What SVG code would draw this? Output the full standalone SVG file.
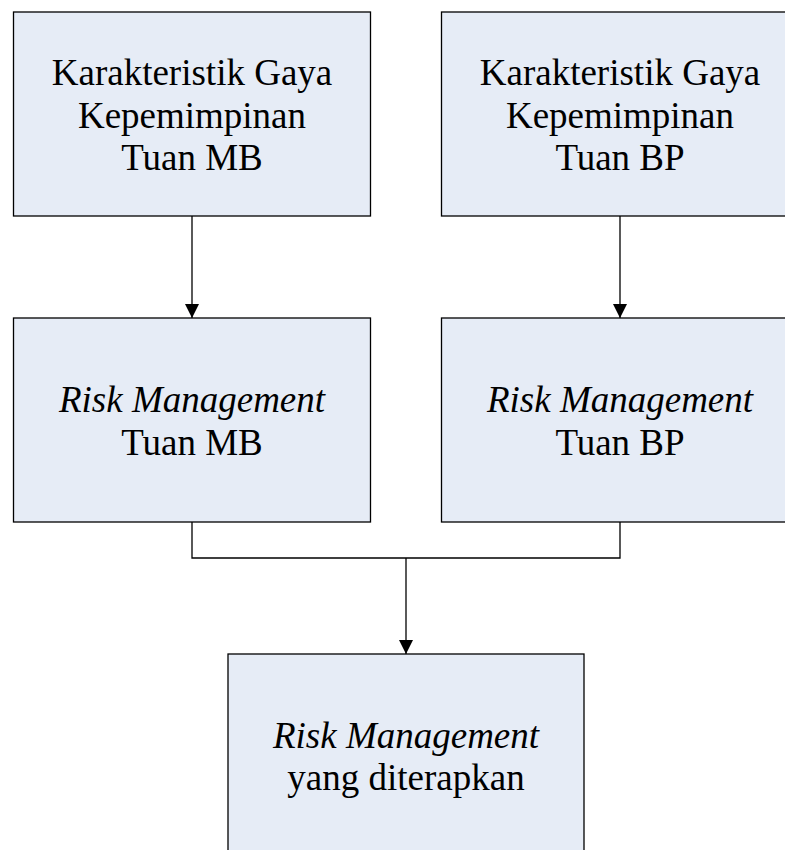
<svg xmlns="http://www.w3.org/2000/svg" width="785" height="850" viewBox="0 0 785 850">
<style>
.box{fill:#E6ECF6;stroke:#000;stroke-width:1.3}
.t{font-family:"Liberation Serif","Times New Roman",serif;font-size:37px;fill:#000;text-anchor:middle}
.i{font-style:italic}
.c{fill:none;stroke:#000;stroke-width:1.3}
</style>
<defs>
<marker id="ah" viewBox="0 0 14 14" refX="14" refY="7" markerWidth="14" markerHeight="14" markerUnits="userSpaceOnUse" orient="auto">
<path d="M0,0 L14,7 L0,14 Z" fill="#000"/>
</marker>
</defs>
<rect width="785" height="850" fill="#fff"/>
<g id="connectors">
<line class="c" x1="192" y1="216" x2="192" y2="318" marker-end="url(#ah)"/>
<line class="c" x1="620" y1="216" x2="620" y2="318" marker-end="url(#ah)"/>
<polyline class="c" points="192,522 192,558 620,558 620,522"/>
<line class="c" x1="406" y1="558" x2="406" y2="654" marker-end="url(#ah)"/>
</g>
<g id="node-karakteristik-mb">
<rect class="box" x="13.5" y="12" width="357" height="204"/>
<text class="t" x="192" y="85">Karakteristik Gaya</text>
<text class="t" x="192" y="127.5">Kepemimpinan</text>
<text class="t" x="192" y="170">Tuan MB</text>
</g>
<g id="node-karakteristik-bp">
<rect class="box" x="441.5" y="12" width="357" height="204"/>
<text class="t" x="620" y="85">Karakteristik Gaya</text>
<text class="t" x="620" y="127.5">Kepemimpinan</text>
<text class="t" x="620" y="170">Tuan BP</text>
</g>
<g id="node-risk-mb">
<rect class="box" x="13.5" y="318" width="357" height="204"/>
<text class="t i" x="192" y="412">Risk Management</text>
<text class="t" x="192" y="455">Tuan MB</text>
</g>
<g id="node-risk-bp">
<rect class="box" x="441.5" y="318" width="357" height="204"/>
<text class="t i" x="620" y="412">Risk Management</text>
<text class="t" x="620" y="455">Tuan BP</text>
</g>
<g id="node-risk-applied">
<rect class="box" x="228" y="654" width="356" height="210"/>
<text class="t i" x="406" y="748">Risk Management</text>
<text class="t" x="406" y="790">yang diterapkan</text>
</g>
</svg>
